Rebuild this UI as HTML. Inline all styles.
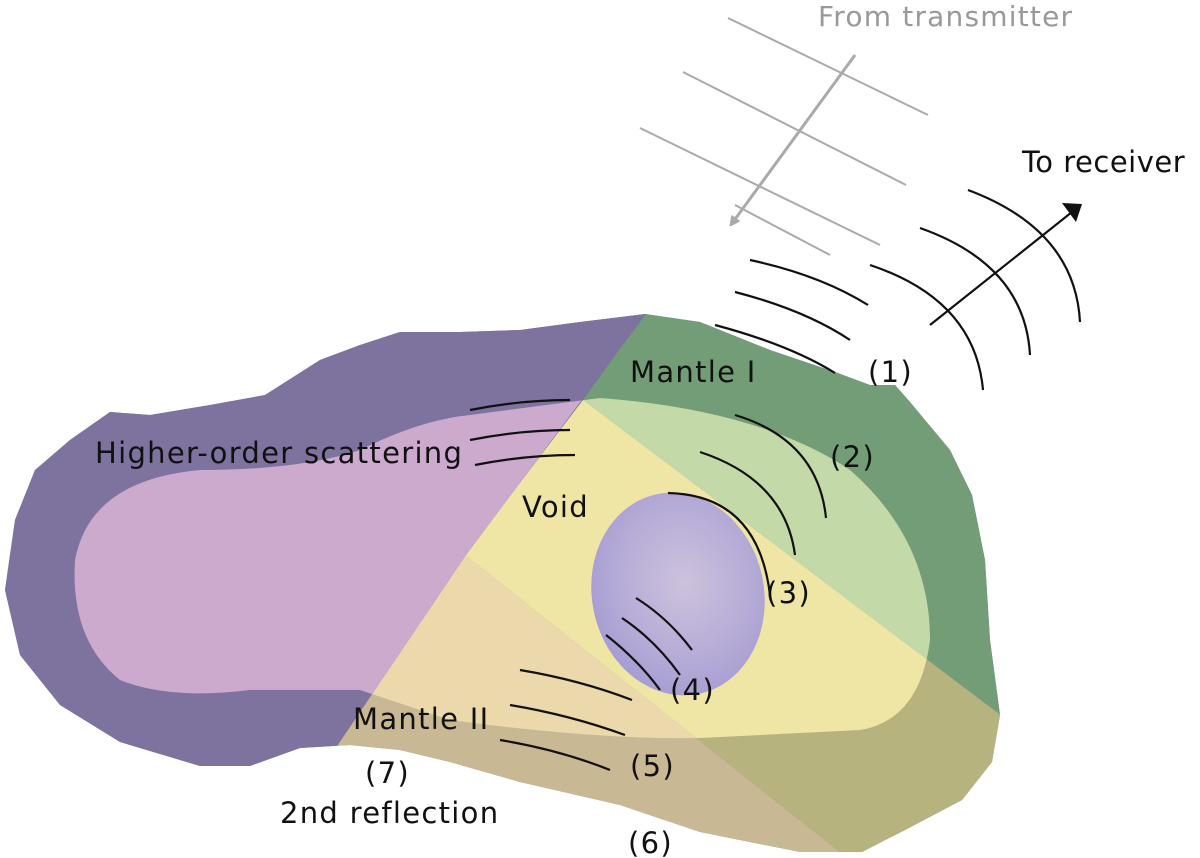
<!DOCTYPE html>
<html><head><meta charset="utf-8"><style>
html,body{margin:0;padding:0;background:#fff;}
svg{display:block;}
text{font-family:"DejaVu Sans","Liberation Sans",sans-serif;font-size:29px;letter-spacing:1.3px;fill:#111;}
</style></head><body>
<svg width="1200" height="858" viewBox="0 0 1200 858" xmlns="http://www.w3.org/2000/svg">
<defs>
<clipPath id="body"><path d="M5 590 L15 520 L35 470 L70 440 L110 412 L150 415 L210 405 L265 395 L320 360 L360 345 L400 332 L460 332 L520 330 L580 322 L645 314 L700 322 L770 350 L835 372 L870 385 L895 385 L910 402 L950 450 L972 495 L985 560 L990 640 L1000 715 L992 762 L962 800 L905 830 L862 852 L800 852 L700 832 L620 805 L520 782 L450 762 L400 750 L350 745 L300 748 L250 766 L200 766 L120 742 L60 705 L20 655 Z"/></clipPath>
<clipPath id="pur"><polygon points="0,300 646,300 646,314 466,555 321,770 0,860"/></clipPath>
<clipPath id="grn"><polygon points="645,300 1010,300 1010,722 583,400 645,314"/></clipPath>
<clipPath id="yel"><polygon points="583,400 1010,722 1010,860 850,860 465,555"/></clipPath>
<clipPath id="tan"><polygon points="465,555 850,860 300,860 320,770"/></clipPath>
<path id="inner" d="M75 560 Q90 480 200 470 Q300 470 360 450 Q420 420 470 415 L600 398 Q760 410 850 470 Q930 540 930 640 Q920 720 860 730 L700 738 Q600 740 450 720 L360 690 L250 690 Q170 700 120 680 Q70 640 75 560 Z"/>
<radialGradient id="vg" cx="0.55" cy="0.45" r="0.6"><stop offset="0" stop-color="#cdc2dc"/><stop offset="0.7" stop-color="#b3a9d6"/><stop offset="1" stop-color="#a39bd2"/></radialGradient>
<marker id="ag" markerWidth="10" markerHeight="10" refX="5" refY="5" orient="auto" markerUnits="userSpaceOnUse"><path d="M0 0 L10 5 L0 10 Z" fill="#aaa" transform="scale(1.4) translate(-2,-1.4)"/></marker>
</defs>
<g clip-path="url(#body)">
  <rect x="0" y="300" width="1010" height="560" fill="#7e739f"/>
  <g clip-path="url(#grn)"><rect x="0" y="300" width="1010" height="560" fill="#739d76"/><use href="#inner" fill="#c4d9a8"/></g>
  <g clip-path="url(#yel)"><rect x="0" y="300" width="1010" height="560" fill="#b7b37e"/><use href="#inner" fill="#efe6a6"/></g>
  <g clip-path="url(#tan)"><rect x="0" y="300" width="1010" height="560" fill="#c9b894"/><use href="#inner" fill="#ebd9ab"/></g>
  <g clip-path="url(#pur)"><rect x="0" y="300" width="1010" height="560" fill="#7e739f"/><use href="#inner" fill="#cbaacd"/></g>
</g>
<ellipse cx="678" cy="594" rx="86" ry="102" transform="rotate(-12 678 594)" fill="url(#vg)"/>
<g stroke="#aaa" stroke-width="2" fill="none">
<line x1="728" y1="18" x2="928" y2="115"/>
<line x1="683" y1="72" x2="906" y2="185"/>
<line x1="640" y1="128" x2="880" y2="245"/>
<line x1="735" y1="205" x2="830" y2="255"/>
<line x1="855" y1="55" x2="733" y2="222" stroke-width="3" marker-end="url(#ag)"/>
</g>
<text x="818" y="26" style="fill:#999;font-size:28px;letter-spacing:1.2px">From transmitter</text>
<text x="1022" y="172" style="letter-spacing:0.5px">To receiver</text>
<g stroke="#111" stroke-width="2.2" fill="none">
<path d="M870 265 Q975 300 983 390"/>
<path d="M920 228 Q1025 265 1030 355"/>
<path d="M968 190 Q1075 230 1080 322"/>
<line x1="930" y1="325" x2="1072" y2="212"/>
<path d="M1062 203 L1082 204 L1076 222 Z" fill="#111" stroke="none"/>
<path d="M750 260 Q820 275 868 305"/>
<path d="M735 292 Q805 310 850 340"/>
<path d="M715 325 Q790 345 835 373"/>
<path d="M735 415 Q818 440 826 518"/>
<path d="M700 452 Q785 480 795 555"/>
<path d="M668 493 Q758 495 770 595"/>
<path d="M470 410 Q520 400 570 400"/>
<path d="M470 440 Q520 430 570 430"/>
<path d="M475 465 Q525 455 575 455"/>
<path d="M636 598 Q668 618 692 650"/>
<path d="M622 618 Q655 640 680 675"/>
<path d="M606 635 Q638 660 660 690"/>
<path d="M520 670 Q580 680 632 700"/>
<path d="M510 705 Q570 715 625 735"/>
<path d="M500 740 Q560 750 610 770"/>
</g>
<text x="868" y="382">(1)</text>
<text x="630" y="382">Mantle I</text>
<text x="95" y="463">Higher-order scattering</text>
<text x="830" y="467">(2)</text>
<text x="522" y="517">Void</text>
<text x="766" y="603">(3)</text>
<text x="670" y="700">(4)</text>
<text x="353" y="729">Mantle II</text>
<text x="630" y="776">(5)</text>
<text x="365" y="783">(7)</text>
<text x="280" y="823">2nd reflection</text>
<text x="628" y="853">(6)</text>
</svg>
</body></html>
